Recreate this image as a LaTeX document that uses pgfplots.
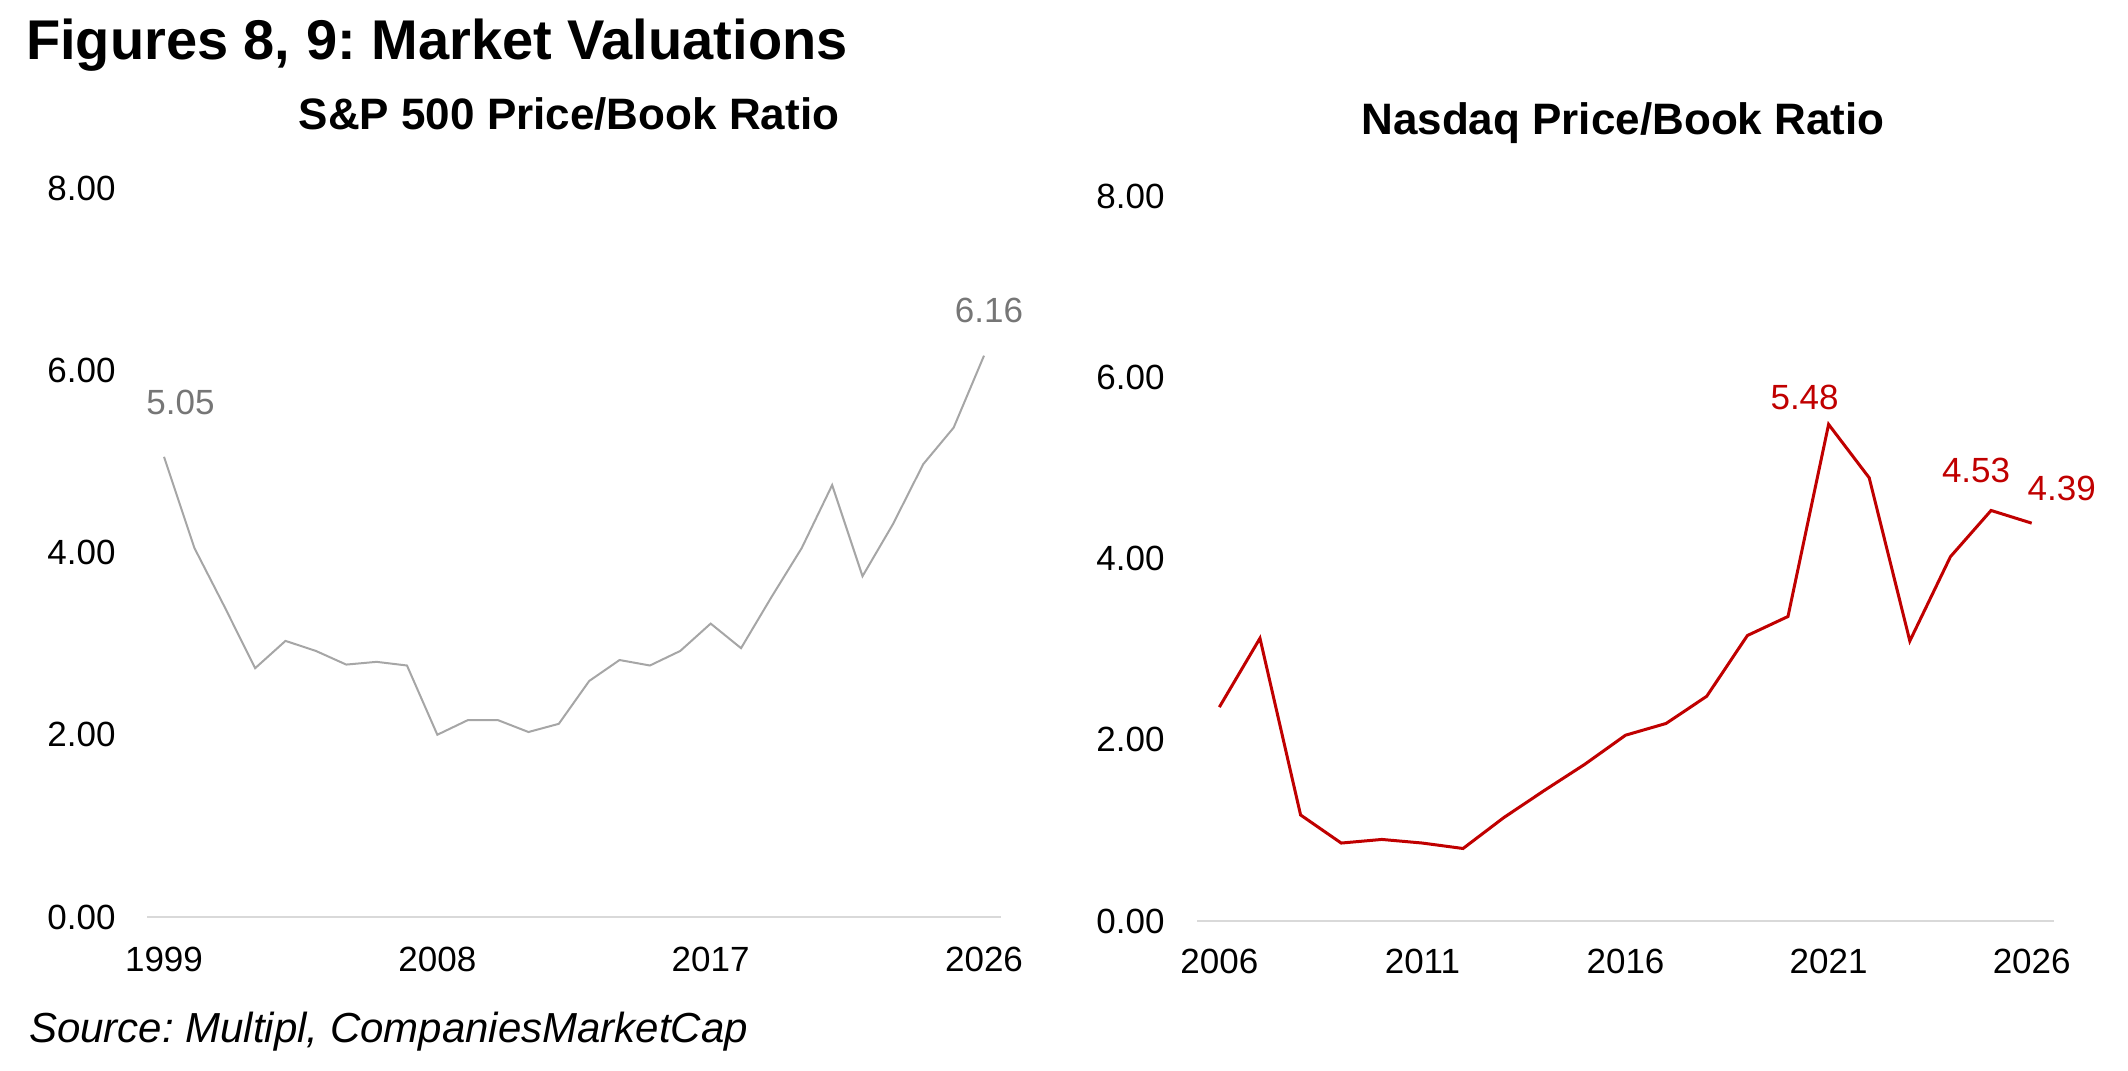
\documentclass[border=0pt]{standalone}
\usepackage{fontspec}
\setmainfont{Liberation Sans}
\usepackage{pgfplots}
\pgfplotsset{compat=1.18}
\frenchspacing
\definecolor{spgray}{HTML}{A6A6A6}
\definecolor{lblgray}{HTML}{767676}
\definecolor{nsred}{HTML}{C00000}
\definecolor{axgray}{HTML}{D9D9D9}
\pgfplotsset{
  mystyle/.style={
    scale only axis,
    ymin=0, ymax=8,
    ytick={0,2,4,6,8},
    axis x line*=bottom,
    axis y line*=left,
    x axis line style={draw=axgray, line width=1.2pt, -},
    y axis line style={draw=none},
    major tick length=0pt,
    tick style={draw=none},
    tick label style={inner sep=0pt, font=\fontsize{17.5}{21}\selectfont, text=black},
    /pgf/number format/assume math mode=true,
    yticklabel={\pgfmathprintnumber[fixed,fixed zerofill,precision=2]{\tick}},
    xticklabel={\pgfmathprintnumber[int detect,1000 sep={}]{\tick}},
    clip=false,
  }
}
\begin{document}
\begin{tikzpicture}
\path[use as bounding box] (0pt,0pt) rectangle (1064pt,535pt);
\node[anchor=base west, font=\fontsize{28}{33}\selectfont\bfseries] at (9.5pt,505pt) {Figures 8, 9: Market Valuations};
\node[anchor=base, font=\fontsize{22}{26}\selectfont\bfseries] at (284.5pt,470pt) {S\&P 500 Price/Book Ratio};
\node[anchor=base, font=\fontsize{22}{26}\selectfont\bfseries] at (811.5pt,467.5pt) {Nasdaq Price/Book Ratio};
\node[anchor=base west, font=\fontsize{21}{25}\selectfont\itshape] at (11pt,14pt) {Source: Multipl, CompaniesMarketCap};

\begin{axis}[mystyle,
  at={(73.5pt,76.5pt)}, anchor=south west,
  width=427pt, height=364.5pt,
  xmin=1998.44, xmax=2026.56,
  xtick={1999,2008,2017,2026},
  yticklabel style={anchor=east, xshift=-15.5pt},
  xticklabel style={anchor=north, yshift=-15pt},
]
\addplot[color=spgray, line width=1pt, mark=none] coordinates {
(1999,5.05) (2000,4.05) (2001,3.40) (2002,2.73) (2003,3.03) (2004,2.92)
(2005,2.77) (2006,2.80) (2007,2.76) (2008,2.00) (2009,2.16) (2010,2.16)
(2011,2.03) (2012,2.12) (2013,2.59) (2014,2.82) (2015,2.76) (2016,2.92)
(2017,3.22) (2018,2.95) (2019,3.51) (2020,4.05) (2021,4.74) (2022,3.74)
(2023,4.31) (2024,4.97) (2025,5.37) (2026,6.16)
};
\node[anchor=base, text=lblgray, font=\fontsize{17.5}{21}\selectfont, xshift=8.25pt, yshift=21pt] at (axis cs:1999,5.05) {5.05};
\node[anchor=base, text=lblgray, font=\fontsize{17.5}{21}\selectfont, xshift=2.5pt, yshift=16.5pt] at (axis cs:2026,6.16) {6.16};
\end{axis}

\begin{axis}[mystyle,
  at={(598.5pt,74.5pt)}, anchor=south west,
  width=428.5pt, height=362.5pt,
  xmin=2005.45, xmax=2026.55,
  xtick={2006,2011,2016,2021,2026},
  yticklabel style={anchor=east, xshift=-16pt},
  xticklabel style={anchor=north, yshift=-14pt},
]
\addplot[color=nsred, line width=1.5pt, mark=none] coordinates {
(2006,2.36) (2007,3.12) (2008,1.17) (2009,0.86) (2010,0.90) (2011,0.86)
(2012,0.80) (2013,1.14) (2014,1.44) (2015,1.73) (2016,2.05) (2017,2.18)
(2018,2.48) (2019,3.15) (2020,3.36) (2021,5.48) (2022,4.89) (2023,3.09)
(2024,4.02) (2025,4.53) (2026,4.39)
};
\node[anchor=base, text=nsred, font=\fontsize{17.5}{21}\selectfont, xshift=-12pt, yshift=7.5pt] at (axis cs:2021,5.48) {5.48};
\node[anchor=base, text=nsred, font=\fontsize{17.5}{21}\selectfont, xshift=-7.5pt, yshift=14pt] at (axis cs:2025,4.53) {4.53};
\node[anchor=base, text=nsred, font=\fontsize{17.5}{21}\selectfont, xshift=15pt, yshift=11.5pt] at (axis cs:2026,4.39) {4.39};
\end{axis}
\end{tikzpicture}
\end{document}
